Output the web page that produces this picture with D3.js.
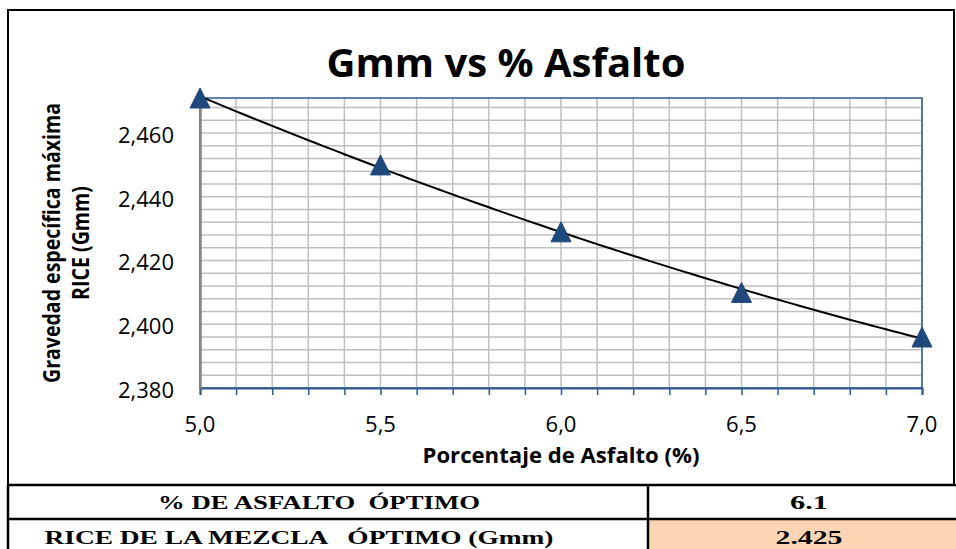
<!DOCTYPE html>
<html>
<head>
<meta charset="utf-8">
<script src="https://cdn.jsdelivr.net/npm/d3@7"></script>
<style>
  body { margin: 0; background: #fff; }
  svg { display: block; }
</style>
</head>
<body>
<svg id="chart" width="956" height="549"></svg>
<script>
// data
const asfalto = [5.0, 5.5, 6.0, 6.5, 7.0];
const gmm = [2.471, 2.450, 2.429, 2.410, 2.396];
const yTicks = [2.380, 2.400, 2.420, 2.440, 2.460];
const xTicks = [5.0, 5.5, 6.0, 6.5, 7.0];
const tableLabels = ['% DE ASFALTO  ÓPTIMO', 'RICE DE LA MEZCLA   ÓPTIMO (Gmm)'];
const tableValues = ['6.1', '2.425'];

const svg = d3.select('#chart');
const plot = { left: 200, right: 922, top: 98, bottom: 388 };

const x = d3.scaleLinear().domain([5.0, 7.0]).range([plot.left, plot.right]);
const y = d3.scaleLinear().domain([2.380, d3.max(gmm)]).range([plot.bottom, plot.top]);

// outer chart frame
svg.append('rect')
  .attr('x', 8).attr('y', 10)
  .attr('width', 946).attr('height', 475)
  .attr('fill', 'none')
  .attr('stroke', '#000')
  .attr('stroke-width', 2);

// gridlines (minor: 0.1 on x, 0.004 on y)
const gx = d3.range(5.0, 7.0001, 0.1);
const gy = d3.range(2.380, d3.max(gmm), 0.004);

svg.append('g')
  .selectAll('line')
  .data(gx)
  .join('line')
  .attr('x1', d => x(d)).attr('x2', d => x(d))
  .attr('y1', plot.top).attr('y2', plot.bottom)
  .attr('stroke', '#bfbfbf')
  .attr('stroke-width', 1.5);

svg.append('g')
  .selectAll('line')
  .data(gy)
  .join('line')
  .attr('x1', plot.left).attr('x2', plot.right)
  .attr('y1', d => y(d)).attr('y2', d => y(d))
  .attr('stroke', '#bfbfbf')
  .attr('stroke-width', 1.5);

// plot area border
svg.append('rect')
  .attr('x', plot.left).attr('y', plot.top)
  .attr('width', plot.right - plot.left)
  .attr('height', plot.bottom - plot.top)
  .attr('fill', 'none')
  .attr('stroke', '#2f5a94')
  .attr('stroke-width', 1.5);

// x axis with minor ticks
const xAxis = svg.append('g')
  .attr('transform', `translate(0, ${plot.bottom})`)
  .call(d3.axisBottom(x).tickValues(gx).tickSize(7).tickFormat(''));
xAxis.select('.domain').attr('stroke', '#2f5a94').attr('stroke-width', 2);
xAxis.selectAll('.tick line').attr('stroke', '#2f5a94').attr('stroke-width', 1.5);

svg.append('g')
  .selectAll('text')
  .data(xTicks)
  .join('text')
  .attr('x', d => x(d))
  .attr('y', 432)
  .attr('text-anchor', 'middle')
  .style('font', '22px "Open Sans"')
  .text(d => d3.format('.1f')(d).replace('.', ','));

// y axis
const yAxis = svg.append('g')
  .attr('transform', `translate(${plot.left}, 0)`)
  .call(d3.axisLeft(y).tickValues(yTicks).tickSize(0).tickPadding(26)
    .tickFormat(d => d3.format('.3f')(d).replace('.', ',')));
yAxis.select('.domain').attr('stroke', '#868686').attr('stroke-width', 2.5);
yAxis.selectAll('text')
  .attr('dy', '0.42em')
  .style('font', '22px "Open Sans"')
  .attr('fill', '#000');

// quadratic trend line (least squares on the data)
function quadFit(xs, ys) {
  const n = xs.length;
  const s = k => d3.sum(xs, v => Math.pow(v, k));
  const sy = k => d3.sum(xs, (v, i) => Math.pow(v, k) * ys[i]);
  const A = [[n, s(1), s(2)], [s(1), s(2), s(3)], [s(2), s(3), s(4)]];
  const B = [sy(0), sy(1), sy(2)];
  for (let i = 0; i < 3; i++) {
    for (let j = i + 1; j < 3; j++) {
      const f = A[j][i] / A[i][i];
      for (let k = i; k < 3; k++) A[j][k] -= f * A[i][k];
      B[j] -= f * B[i];
    }
  }
  const c = [0, 0, 0];
  for (let i = 2; i >= 0; i--) {
    let t = B[i];
    for (let k = i + 1; k < 3; k++) t -= A[i][k] * c[k];
    c[i] = t / A[i][i];
  }
  return v => c[0] + c[1] * v + c[2] * v * v;
}
const trend = quadFit(asfalto, gmm);
const trendX = d3.range(5.0, 7.0001, 0.02);

svg.append('path')
  .datum(trendX)
  .attr('d', d3.line().x(d => x(d)).y(d => y(trend(d))))
  .attr('fill', 'none')
  .attr('stroke', '#000')
  .attr('stroke-width', 2);

// triangle markers
svg.append('g')
  .selectAll('path')
  .data(asfalto)
  .join('path')
  .attr('transform', (d, i) => `translate(${x(d)}, ${y(gmm[i])})`)
  .attr('d', 'M0,-10L10,10L-10,10Z')
  .attr('fill', '#1f497d')
  .attr('stroke', '#1f497d')
  .attr('stroke-width', 1);

// titles
svg.append('text')
  .attr('x', 506).attr('y', 77)
  .attr('text-anchor', 'middle')
  .style('font', 'bold 40px "Open Sans"')
  .text('Gmm vs % Asfalto');

svg.append('text')
  .attr('x', 561).attr('y', 463)
  .attr('text-anchor', 'middle')
  .attr('textLength', 277)
  .attr('lengthAdjust', 'spacingAndGlyphs')
  .style('font', 'bold 21px "Open Sans"')
  .text('Porcentaje de Asfalto (%)');

const yTitle = svg.append('text')
  .attr('transform', `translate(60, ${(plot.top + plot.bottom) / 2}) rotate(-90)`)
  .attr('text-anchor', 'middle')
  .style('font', 'bold 24px "Open Sans"');
yTitle.append('tspan').attr('x', 0).attr('y', 0)
  .attr('textLength', 280).attr('lengthAdjust', 'spacingAndGlyphs')
  .text('Gravedad específica máxima');
yTitle.append('tspan').attr('x', 0).attr('y', 29)
  .attr('textLength', 114).attr('lengthAdjust', 'spacingAndGlyphs')
  .text('RICE (Gmm)');

// result table
const rowTop = [485, 519];
const rowH = [34, 32];
const colX = [8, 648, 956];

svg.append('rect')
  .attr('x', colX[1]).attr('y', rowTop[1])
  .attr('width', colX[2] - colX[1]).attr('height', rowH[1])
  .attr('fill', '#fcd5b4');

const tbl = svg.append('g')
  .attr('stroke', '#000')
  .attr('stroke-width', 2.5);
tbl.append('line').attr('x1', 7).attr('x2', 956).attr('y1', 485).attr('y2', 485);
tbl.append('line').attr('x1', 7).attr('x2', 956).attr('y1', 519).attr('y2', 519);
tbl.append('line').attr('x1', 8).attr('x2', 8).attr('y1', 485).attr('y2', 549);
tbl.append('line').attr('x1', colX[1]).attr('x2', colX[1]).attr('y1', 485).attr('y2', 549);

const labelWidths = [322, 509];
svg.append('g')
  .selectAll('text')
  .data(tableLabels)
  .join('text')
  .attr('x', (d, i) => i === 0 ? 319 : 299)
  .attr('y', (d, i) => i === 0 ? 509 : 544)
  .attr('text-anchor', 'middle')
  .attr('textLength', (d, i) => labelWidths[i])
  .attr('lengthAdjust', 'spacingAndGlyphs')
  .style('font', 'bold 19px "Liberation Serif"')
  .style('white-space', 'pre')
  .text(d => d);

const valueWidths = [38, 67];
svg.append('g')
  .selectAll('text')
  .data(tableValues)
  .join('text')
  .attr('x', 809)
  .attr('y', (d, i) => i === 0 ? 509 : 544)
  .attr('text-anchor', 'middle')
  .attr('textLength', (d, i) => valueWidths[i])
  .attr('lengthAdjust', 'spacingAndGlyphs')
  .style('font', 'bold 18px "Liberation Serif"')
  .text(d => d);
</script>
</body>
</html>
